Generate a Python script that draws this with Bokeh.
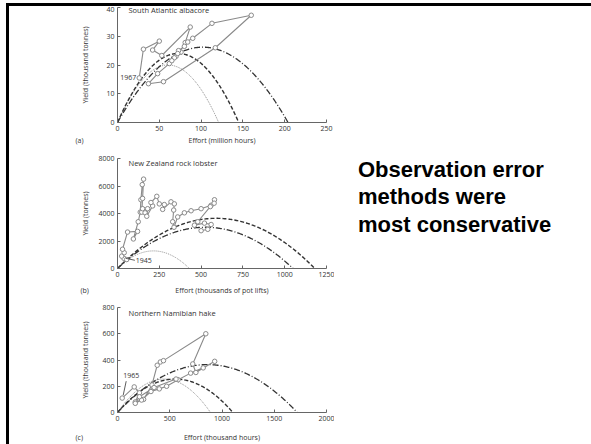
import numpy as np
from bokeh.plotting import figure
from bokeh.models import Range1d, FixedTicker, Label, Div, Spacer, Title
from bokeh.layouts import column, row
from bokeh.embed import file_html
from bokeh.resources import INLINE

# ---------------- data ----------------
# (a) South Atlantic albacore
alb_effort = [26, 31, 50, 42, 53, 87, 81, 90, 113, 160, 117, 55, 37, 48, 62, 70, 76, 68, 73, 80, 84, 72, 65]
alb_yield = [15.5, 25.5, 28.3, 25.2, 23.3, 33.2, 27.8, 29.3, 34.5, 37.3, 26.0, 14.2, 13.5, 17.0, 20.5,
             23.0, 24.5, 22.5, 25.0, 26.5, 28.0, 24.0, 21.5]
# (b) New Zealand rock lobster
lob_effort = [38, 55, 25, 40, 30, 60, 120, 95, 124, 136, 140, 148, 156, 150, 145, 150, 165, 180, 175, 210,
              200, 235, 250, 280, 270, 320, 340, 336, 330, 338, 360, 400, 440, 500, 560, 580, 578, 555, 480, 460,
              520, 560, 540, 500]
lob_yield = [740, 650, 900, 1150, 1400, 2650, 2700, 2150, 3400, 4100, 5000, 6100, 6500, 5100, 4100, 4350, 4050,
             4350, 3800, 4550, 4800, 5250, 4700, 4650, 4300, 4850, 4700, 4250, 3400, 3000, 3750, 4050, 4200, 4350,
             4600, 5000, 4750, 4500, 3400, 3150, 3300, 3200, 2850, 2750]
# (c) Northern Namibian hake
hake_effort = [45, 160, 210, 170, 250, 330, 380, 410, 440, 845, 720, 750, 930, 820, 700, 580, 470, 400, 320, 230,
               170, 210, 350, 560]
hake_yield = [110, 195, 150, 80, 100, 210, 360, 385, 395, 600, 370, 305, 390, 340, 300, 250, 200, 180, 160, 95,
              70, 120, 190, 255]

# fitted equilibrium curves: (effort at maximum, maximum yield)
alb_fits = {"dotted": (60.5, 20.0), "dashed": (72.5, 24.0), "dashdot": (102.0, 26.2)}
lob_fits = {"dotted": (215, 1280), "dashed": (590, 3650), "dashdot": (525, 3000)}
hake_fits = {"dotted": (445, 255), "dashed": (552, 255), "dashdot": (860, 365)}

alb_xticks = [0, 50, 100, 150, 200, 250]
alb_yticks = [0, 10, 20, 30, 40]
lob_xticks = [0, 250, 500, 750, 1000, 1250]
lob_yticks = [0, 2000, 4000, 6000, 8000]
hake_xticks = [0, 500, 1000, 1500, 2000]
hake_yticks = [0, 200, 400, 600, 800]

headline = ["Observation error", "methods were", "most conservative"]

FONT = "Open Sans"
TRAJ = "#8a8a8a"
CURVE = "#333333"
STYLES = {"dotted": ("1 1", "#8a8a8a", 1.0), "dashed": ("4 2", CURVE, 1.4), "dashdot": ("6 2 1 2", CURVE, 1.3)}

FIG_W = 325
MB_L, MB_R = 108, 8


def panel(h, mb_top, mb_bottom, xmax, ymax, xticks, yticks, xlabel, ylabel, ylab_standoff, xlab_standoff,
          title, title_dy, tag, tag_dx, effort, yld, fits):
    p = figure(width=FIG_W, height=h, x_range=Range1d(0, xmax), y_range=Range1d(0, ymax),
               output_backend="svg", toolbar_location=None,
               min_border_left=MB_L, min_border_right=MB_R, min_border_top=mb_top, min_border_bottom=mb_bottom)
    p.outline_line_color = None
    p.grid.visible = False
    p.background_fill_color = "white"
    p.border_fill_color = "white"
    p.xaxis.ticker = FixedTicker(ticks=xticks)
    p.yaxis.ticker = FixedTicker(ticks=yticks)
    for ax in (p.xaxis[0], p.yaxis[0]):
        ax.major_tick_in = 3
        ax.major_tick_out = 0
        ax.minor_tick_in = 0
        ax.minor_tick_out = 0
        ax.axis_line_color = "#666666"
        ax.major_tick_line_color = "#666666"
        ax.major_label_text_font = FONT
        ax.major_label_text_font_size = "7px"
        ax.major_label_text_color = "#333333"
        ax.axis_label_text_font = FONT
        ax.axis_label_text_font_size = "7px"
        ax.axis_label_text_font_style = "normal"
        ax.axis_label_text_color = "#333333"
        ax.major_label_standoff = 3
    p.xaxis.axis_label = xlabel
    p.yaxis.axis_label = ylabel
    p.yaxis.axis_label_standoff = ylab_standoff
    p.xaxis.axis_label_standoff = xlab_standoff

    for name, (emsy, msy) in fits.items():
        e = np.linspace(0, 2 * emsy, 200)
        y = msy * (1 - ((e - emsy) / emsy) ** 2)
        dash, col, lw = STYLES[name]
        p.line(e, y, line_color=col, line_width=lw, line_dash=dash)

    p.line(effort, yld, line_color=TRAJ, line_width=1.1)
    p.scatter(effort, yld, size=4.5, marker="circle", fill_color="white", line_color=TRAJ, line_width=1)

    p.add_layout(Label(x=0, y=ymax, x_offset=11, y_offset=title_dy, text=title, text_font=FONT,
                       text_font_size="7.5px", text_color="#333333", text_baseline="middle"))
    # panel tag: a title below the axis, pulled up onto the axis-label line and left of the frame
    p.add_layout(Title(text=tag, align="left", vertical_align="top", offset=tag_dx, standoff=-23,
                       text_font=FONT, text_font_size="7px", text_font_style="normal", text_color="#333333"),
                 "below")
    return p


p1 = panel(141, 1, 25, 250, 40, alb_xticks, alb_yticks, "Effort (million hours)", "Yield (thousand tonnes)",
           13, 2, "South Atlantic albacore", -2, "(a)", -42, alb_effort, alb_yield, alb_fits)
p2 = panel(150, 11, 27, 1250, 8000, lob_xticks, lob_yticks, "Effort (thousands of pot lifts)", "Yield (tonnes)",
           5, 6, "New Zealand rock lobster", -4, "(b)", -37, lob_effort, lob_yield, lob_fits)
p3 = panel(147, 10, 29, 2000, 800, hake_xticks, hake_yticks, "Effort (thousand hours)",
           "Yield (thousand tonnes)", 9, 9, "Northern Namibian hake", -5, "(c)", -42, hake_effort, hake_yield,
           hake_fits)


def px(p, n, axis):
    fw = FIG_W - MB_L - MB_R
    if axis == "x":
        return n * (p.x_range.end - p.x_range.start) / fw
    return n * (p.y_range.end - p.y_range.start) / 112.0


p1.add_layout(Label(x=alb_effort[0], y=alb_yield[0], x_offset=-3, text="1967", text_align="right",
                    text_baseline="middle", text_font=FONT, text_font_size="7px", text_color="#333333"))

p2.segment(x0=[lob_effort[0] + px(p2, 2, "x")], y0=[lob_yield[0]],
           x1=[lob_effort[0] + px(p2, 11, "x")], y1=[lob_yield[0] - px(p2, 2, "y")],
           line_color="#333333", line_width=0.8)
p2.add_layout(Label(x=lob_effort[0], y=lob_yield[0], x_offset=12, y_offset=-2, text="1945", text_align="left",
                    text_baseline="middle", text_font=FONT, text_font_size="7px", text_color="#333333"))

p3.segment(x0=[hake_effort[0] + px(p3, 1, "x")], y0=[hake_yield[0] + px(p3, 3, "y")],
           x1=[hake_effort[0] + px(p3, 4, "x")], y1=[hake_yield[0] + px(p3, 18, "y")],
           line_color="#333333", line_width=0.8)
p3.add_layout(Label(x=hake_effort[0], y=hake_yield[0], x_offset=9, y_offset=23, text="1965", text_align="center",
                    text_baseline="middle", text_font=FONT, text_font_size="7px", text_color="#333333"))

# headline block to the right of the panels
head_html = ("<div style=\"font-family:'Liberation Sans',Arial,sans-serif;font-weight:bold;font-size:22px;"
             "line-height:27.3px;color:black;padding-left:24px;padding-top:150px;margin:0;\">"
             + "<br>".join(headline) + "</div>")
head_div = Div(text=head_html, width=582 - FIG_W, height=438, margin=0)

top_gap = Spacer(width=591, height=3, margin=0)
left_gap = Spacer(width=6, height=441, margin=0)
left_bar = Div(width=3, height=441, margin=0, styles={"background-color": "black"})
top_bar = Div(width=582, height=3, margin=0, styles={"background-color": "black"})

panels = column(p1, p2, p3, spacing=0)
layout = column(top_gap,
                row(left_gap, left_bar,
                    column(top_bar, row(panels, head_div, spacing=0), spacing=0),
                    spacing=0),
                spacing=0)

open("out.html", "w").write(file_html(layout, INLINE))
